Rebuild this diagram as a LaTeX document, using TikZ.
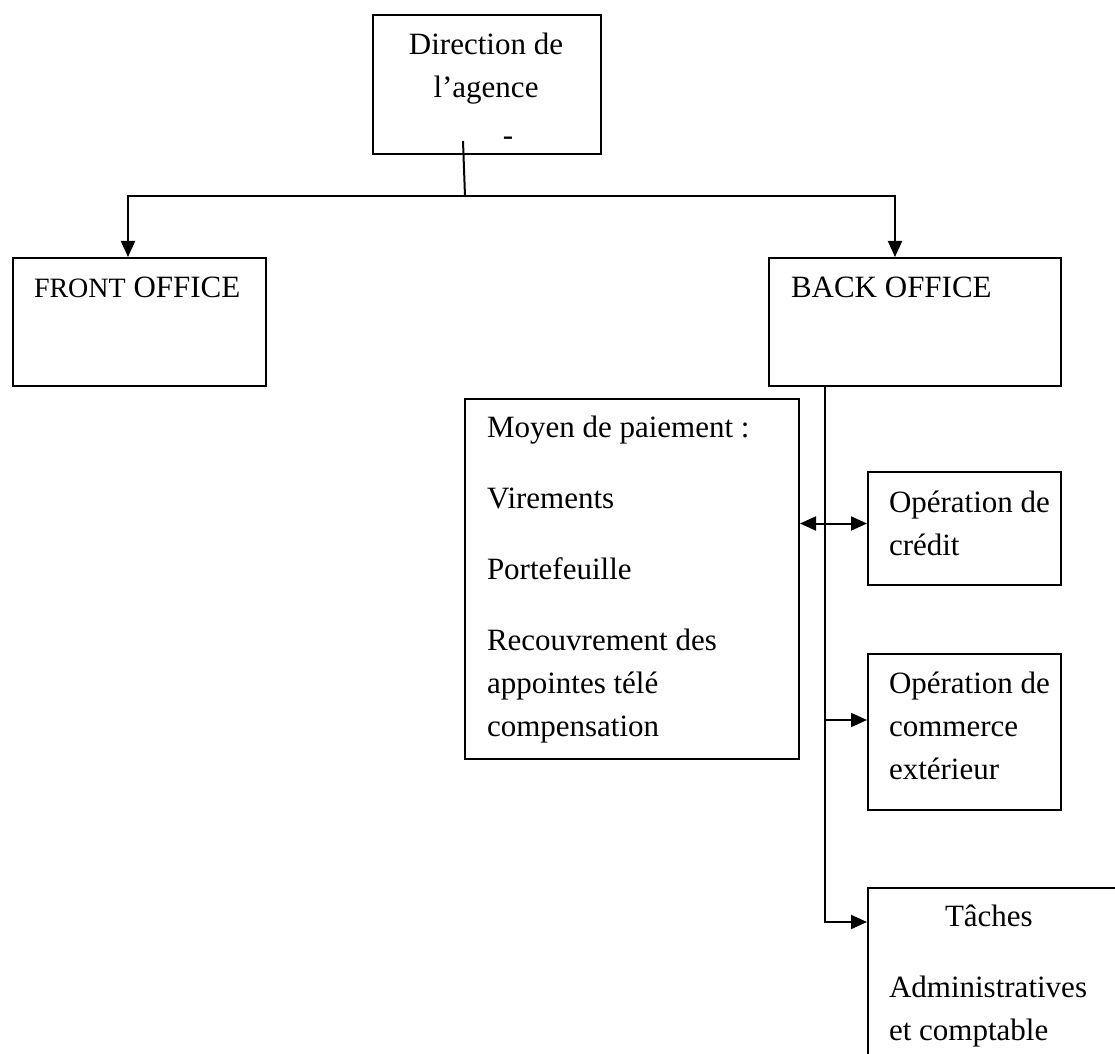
\documentclass[tikz,border=0pt]{standalone}
\usepackage{fontspec}
\setmainfont{Liberation Serif}
\usetikzlibrary{arrows.meta}

\begin{document}
\begin{tikzpicture}[x=0.5pt, y=-0.5pt, >={Triangle[length=8pt,width=7pt]},
      every node/.append style={font=\fontsize{15.5}{21.5}\selectfont},
      every path/.append style={line width=1pt}]
    \tikzstyle{box} = [draw, rectangle, anchor=north west, inner sep=0pt]
    \tikzstyle{word} = [anchor=base west, align=left, inner sep=0pt]
    \useasboundingbox (0,0) rectangle (1115,1054);
    % boxes
    \node (dir) [box, minimum width=114pt, minimum height=69.5pt] at (372,14) {};
    \node (front) [box, minimum width=126.5pt, minimum height=64pt] at (12,257) {};
    \node (back) [box, minimum width=146pt, minimum height=64pt] at (768,257) {};
    \node (moyen) [box, minimum width=167pt, minimum height=180pt] at (464,398) {};
    \node (credit) [box, minimum width=96.5pt, minimum height=56.5pt] at (867,471) {};
    \node (comm) [box, minimum width=96.5pt, minimum height=78pt] at (867,653) {};
    \node (tasks) [box, minimum width=150pt, minimum height=125pt] at (867,887) {};
    % texts (base = last line)
    \node (dir_word) [word, anchor=base, align=center] at (486,146)
      {Direction de\\l’agence\\[2.5pt]\hspace*{22pt}-};
    \node (front_word) [word] at (33,298) {{\fontsize{14}{21.5}\selectfont FRONT} OFFICE};
    \node (back_word) [word] at (790,298) {BACK OFFICE};
    \node (moyen_word) [word] at (486,736)
      {Moyen de paiement :\\[14pt]Virements\\[14pt]Portefeuille\\[14pt]Recouvrement des\\appointes télé\\compensation};
    \node (credit_word) [word] at (888,555) {Opération de\\crédit};
    \node (comm_word) [word] at (888,779) {Opération de\\commerce\\extérieur};
    \node (tasks_word) [word] at (888,1040) {\hspace*{28pt}Tâches\\[14pt]Administratives\\et comptable};
    % connectors
    \coordinate (split) at (465,196);
    \coordinate (trunk) at ([shift={(-90,0)}]back.south);
    \coordinate (credit_in) at ([shift={(0,-5)}]credit.west);
    \coordinate (comm_in) at ([shift={(0,-12)}]comm.west);
    \coordinate (tasks_in) at ([shift={(0,35)}]tasks.north west);
    \draw ([shift={(-24,-14)}]dir.south) -- (split);
    \draw[->] (split) -| ([shift={(-11.5,0)}]front.north);
    \draw[->] (split) -| ([shift={(-20,0)}]back.north);
    \draw[->] (trunk) |- (tasks_in);
    \draw[->] (trunk |- comm_in) -- (comm_in);
    \draw[<->] (moyen.east |- credit_in) -- (credit_in);
\end{tikzpicture}
\end{document}
